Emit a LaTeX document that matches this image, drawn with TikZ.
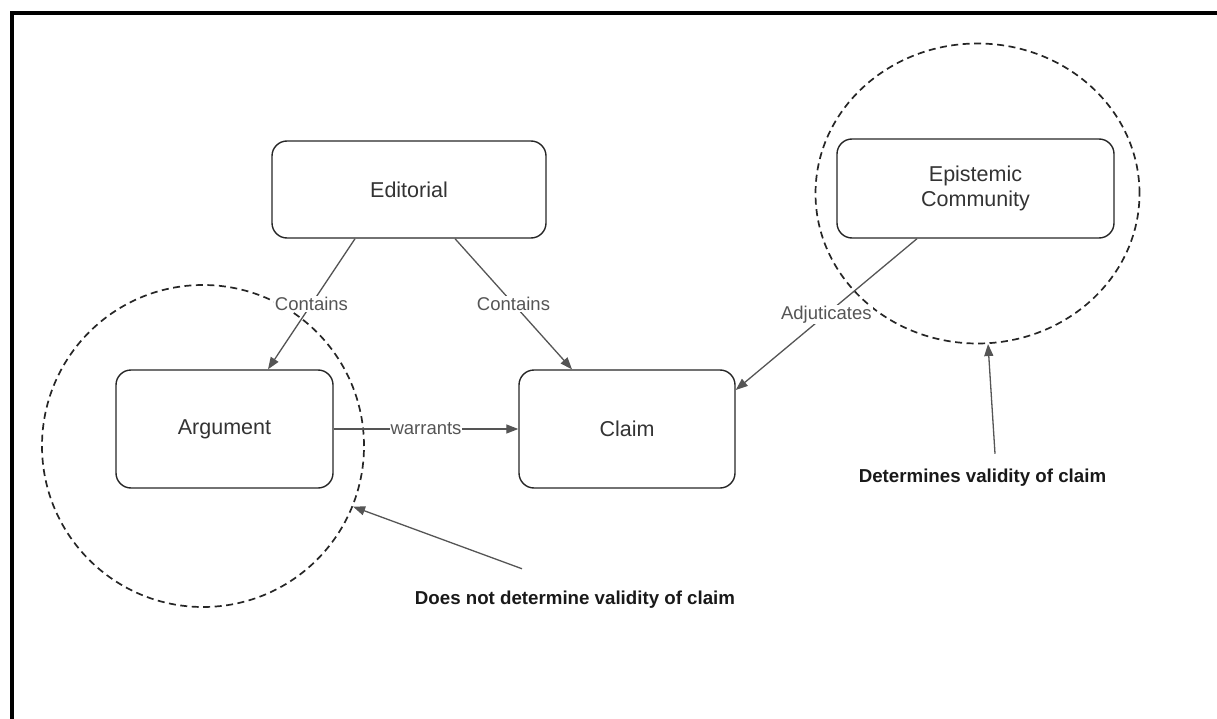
\documentclass[tikz,border=0pt]{standalone}
\usepackage{fontspec}
\setmainfont{Liberation Sans}
\usepackage{tikz}
\usetikzlibrary{arrows.meta}
\usetikzlibrary{positioning,shapes.geometric}
\definecolor{linegray}{HTML}{555555}
\definecolor{labelgray}{HTML}{555555}
\definecolor{textdark}{HTML}{333333}

\begin{document}
\begin{tikzpicture}[
x=1pt, y=-1pt,
MyBoxes/.style={draw=black!85,line width=1.4pt,rounded corners=15pt,text=textdark,align=center,font=\fontsize{21.5}{25}\selectfont},
MyLinks/.style={draw=linegray,line width=1.3pt,-{Triangle[length=12pt,width=9pt]}},
MyLabels/.style={fill=white,text=labelgray,inner sep=1pt,font=\fontsize{18.5}{22}\selectfont},
MyRings/.style={ellipse,draw=black!85,line width=1.7pt,dash pattern=on 7pt off 4.5pt,inner sep=0pt},
MyNotes/.style={text=black!90,font=\bfseries\fontsize{18.7}{22}\selectfont}
]
\useasboundingbox (0,0) rectangle (1217,719);

% frame, only top and left edges show
\draw[line width=3.5pt] (12,719) -- (12,13) -- (1217,13);

% dashed rings
\node[MyRings, minimum width=322pt, minimum height=322pt] (weakring) at (203,446) {};
\node[MyRings, minimum width=324pt, minimum height=300pt] (strongring) at (977.5,193.5) {};

% boxes
\node[MyBoxes, minimum width=274pt, minimum height=97pt] (edit) at (409,189.5) {Editorial};
\node[MyBoxes, minimum width=217pt, minimum height=118pt] (arg) at (224.5,429) {Argument};
\node[MyBoxes, minimum width=216pt, minimum height=118pt] (claim) at (627,429) {Claim};
\node[MyBoxes, minimum width=277pt, minimum height=99pt] (epi) at (975.5,188.5) {Epistemic\\Community};

% links
\draw[MyLinks] ([xshift=-54pt]edit.south) -- node[MyLabels]{Contains} ([xshift=43.5pt]arg.north);
\draw[MyLinks] ([xshift=46pt]edit.south) -- node[MyLabels]{Contains} ([xshift=-55pt]claim.north);
\draw[MyLinks] (arg.east) -- node[MyLabels]{warrants} (claim.west);
\draw[MyLinks] ([xshift=-58.5pt]epi.south) -- node[MyLabels]{Adjuticates} ([yshift=39pt]claim.east);

% notes
\node[MyNotes] (weaknote) at (575,600) {Does not determine validity of claim};
\node[MyNotes] (strongnote) at (982.5,478) {Determines validity of claim};

\draw[MyLinks] ([xshift=-53pt,yshift=19pt]weaknote.north) -- (weakring.-22);
\draw[MyLinks] ([xshift=12.5pt,yshift=12pt]strongnote.north) -- (strongring.-86);

\end{tikzpicture}
\end{document}
